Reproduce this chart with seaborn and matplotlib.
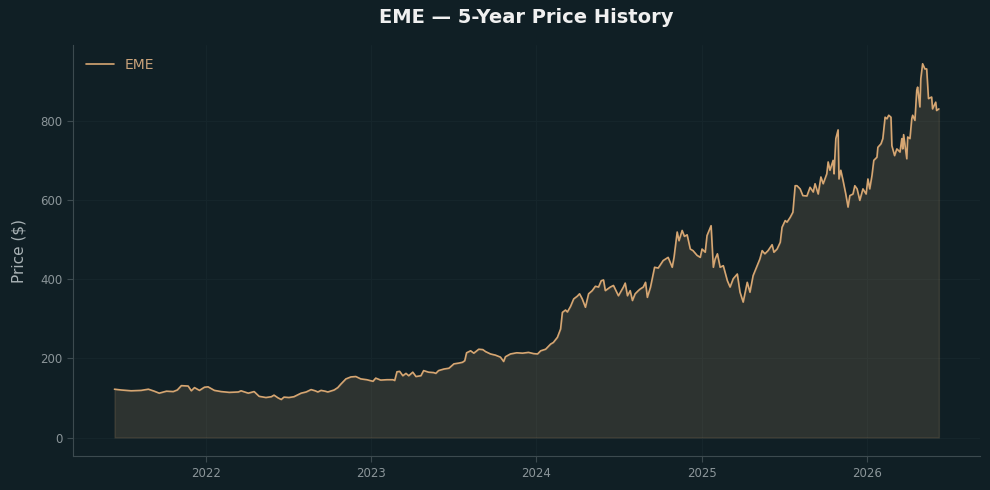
import matplotlib
matplotlib.use("Agg")
import matplotlib.pyplot as plt
import matplotlib.dates as mdates
import pandas as pd
import seaborn as sns

TICKER = "EME"

DATES = [
    "2021-06-12", "2021-06-27", "2021-07-19", "2021-08-10", "2021-08-26", "2021-09-08",
    "2021-09-19", "2021-10-05", "2021-10-20", "2021-10-29", "2021-11-07", "2021-11-22",
    "2021-11-29", "2021-12-06", "2021-12-17", "2021-12-28", "2022-01-05", "2022-01-19",
    "2022-02-03", "2022-02-21", "2022-03-13", "2022-03-19", "2022-04-04", "2022-04-17",
    "2022-04-28", "2022-05-13", "2022-05-25", "2022-05-31", "2022-06-09", "2022-06-16",
    "2022-06-22", "2022-07-03", "2022-07-14", "2022-07-30", "2022-08-10", "2022-08-21",
    "2022-08-30", "2022-09-05", "2022-09-12", "2022-09-21", "2022-09-27", "2022-10-11",
    "2022-10-19", "2022-10-26",
    "2022-11-06", "2022-11-17", "2022-11-28", "2022-12-09", "2022-12-22", "2023-01-05",
    "2023-01-11", "2023-01-22", "2023-02-05", "2023-02-18", "2023-02-22", "2023-02-27",
    "2023-03-05", "2023-03-12", "2023-03-19", "2023-03-25", "2023-04-03", "2023-04-10",
    "2023-04-21", "2023-04-27", "2023-05-08", "2023-05-19", "2023-05-24", "2023-05-30",
    "2023-06-11", "2023-06-22", "2023-07-03", "2023-07-14", "2023-07-22", "2023-07-27",
    "2023-07-31", "2023-08-09", "2023-08-16", "2023-08-27", "2023-09-05", "2023-09-11",
    "2023-09-22", "2023-10-03", "2023-10-14", "2023-10-21", "2023-10-25", "2023-11-05",
    "2023-11-19", "2023-12-02", "2023-12-15", "2023-12-26", "2024-01-04",
    "2024-01-11", "2024-01-22", "2024-02-02", "2024-02-08", "2024-02-17", "2024-02-24",
    "2024-02-28", "2024-03-06", "2024-03-10", "2024-03-17", "2024-03-24", "2024-04-01",
    "2024-04-06", "2024-04-12", "2024-04-19", "2024-04-26", "2024-05-04", "2024-05-11",
    "2024-05-18", "2024-05-24", "2024-05-29", "2024-06-02", "2024-06-07", "2024-06-13",
    "2024-06-20", "2024-07-01", "2024-07-07", "2024-07-12", "2024-07-16", "2024-07-21",
    "2024-07-27", "2024-08-01", "2024-08-07", "2024-08-14",
    "2024-08-18", "2024-08-25", "2024-08-30", "2024-09-03", "2024-09-10", "2024-09-19",
    "2024-09-27", "2024-10-08", "2024-10-19", "2024-10-28", "2024-11-01", "2024-11-08",
    "2024-11-12", "2024-11-19", "2024-11-24", "2024-11-30", "2024-12-07", "2024-12-13",
    "2024-12-22", "2024-12-29", "2025-01-02", "2025-01-09", "2025-01-13", "2025-01-22",
    "2025-01-27", "2025-01-31", "2025-02-05", "2025-02-11", "2025-02-18", "2025-02-27",
    "2025-03-05", "2025-03-12", "2025-03-21", "2025-03-27", "2025-04-03", "2025-04-12",
    "2025-04-18",
    "2025-04-25", "2025-05-04", "2025-05-10", "2025-05-15", "2025-05-21", "2025-05-28",
    "2025-06-06", "2025-06-10", "2025-06-17", "2025-06-24", "2025-06-28", "2025-07-05",
    "2025-07-09", "2025-07-16", "2025-07-22", "2025-07-27", "2025-07-31", "2025-08-07",
    "2025-08-13", "2025-08-22", "2025-08-29", "2025-09-05", "2025-09-09", "2025-09-16",
    "2025-09-22", "2025-09-27", "2025-10-05", "2025-10-08", "2025-10-12", "2025-10-19",
    "2025-10-21", "2025-10-25", "2025-10-30", "2025-11-01", "2025-11-05", "2025-11-10",
    "2025-11-16", "2025-11-21", "2025-11-25",
    "2025-12-02", "2025-12-06", "2025-12-11", "2025-12-17", "2025-12-24", "2025-12-31",
    "2026-01-04", "2026-01-08", "2026-01-13", "2026-01-17", "2026-01-24", "2026-01-26",
    "2026-02-02", "2026-02-06", "2026-02-11", "2026-02-15", "2026-02-19", "2026-02-24",
    "2026-02-26", "2026-03-04", "2026-03-09", "2026-03-16", "2026-03-20", "2026-03-22",
    "2026-03-24", "2026-03-31", "2026-04-02", "2026-04-07", "2026-04-11", "2026-04-13",
    "2026-04-18", "2026-04-22", "2026-04-24", "2026-04-29", "2026-05-01", "2026-05-05",
    "2026-05-10", "2026-05-14", "2026-05-18", "2026-05-25", "2026-05-27", "2026-06-03",
    "2026-06-05", "2026-06-10",
]

PRICES = [
    122, 120, 118, 119, 122, 117,
    112, 117, 116, 120, 131, 130,
    118, 126, 119, 127, 128, 119,
    116, 114, 115, 118, 112, 116,
    104, 101, 103, 107, 100, 96,
    102, 101, 103, 112, 115, 121,
    118, 115, 119, 117, 115, 120,
    126, 135,
    148, 153, 154, 148, 146, 142,
    150, 145, 146, 146, 144, 166,
    167, 156, 162, 156, 165, 154,
    156, 169, 165, 164, 162, 169,
    173, 175, 186, 188, 190, 194,
    214, 219, 213, 223, 222, 217,
    211, 208, 203, 192, 204, 211,
    214, 213, 215, 212, 211,
    219, 223, 236, 240, 253, 274,
    316, 322, 317, 331, 350, 357,
    363, 350, 329, 363, 371, 382,
    380, 396, 398, 371, 375, 380,
    384, 358, 370, 380, 390, 358,
    371, 346, 363, 371,
    375, 380, 392, 354, 380, 430,
    428, 447, 455, 430, 455, 519,
    497, 523, 508, 512, 476, 472,
    460, 455, 476, 468, 510, 535,
    430, 451, 464, 430, 434, 396,
    380, 401, 413, 367, 342, 392,
    367,
    409, 434, 451, 472, 464, 472,
    487, 468, 476, 493, 531, 548,
    544, 556, 569, 636, 636, 628,
    611, 610, 632, 620, 641, 615,
    658, 641, 666, 696, 675, 700,
    666, 755, 777, 653, 675, 649,
    615, 582, 611,
    615, 636, 628, 599, 628, 615,
    653, 628, 662, 700, 708, 733,
    742, 755, 809, 805, 814, 809,
    737, 712, 729, 721, 755, 729,
    765, 704, 759, 755, 805, 814,
    801, 877, 885, 835, 906, 944,
    931, 931, 856, 860, 830, 847,
    826, 830,
]

BG = "#101f25"
LINE = "#d6a672"
GRID = "#15252b"
SPINE = "#3c4a4f"
TICK = "#8b9599"

sns.set_theme(style="dark", rc={
    "figure.facecolor": BG,
    "axes.facecolor": BG,
    "axes.edgecolor": SPINE,
    "axes.grid": True,
    "grid.color": GRID,
    "grid.linewidth": 0.8,
    "xtick.color": TICK,
    "ytick.color": TICK,
    "xtick.bottom": True,
    "ytick.left": True,
    "axes.labelcolor": "#a9b2b5",
})
plt.rcParams["font.family"] = ["DejaVu Sans"]

df = pd.DataFrame({"Date": pd.to_datetime(DATES), "Price": PRICES})

fig, ax = plt.subplots(figsize=(9.9, 4.9), dpi=100)
fig.subplots_adjust(left=0.074, right=0.99, top=0.908, bottom=0.069)

ax.fill_between(df["Date"], df["Price"], 0, color=LINE, alpha=0.15, linewidth=1)
sns.lineplot(data=df, x="Date", y="Price", ax=ax, color=LINE, linewidth=1.2, label=TICKER)

ax.xaxis.set_major_locator(mdates.YearLocator())
ax.xaxis.set_major_formatter(mdates.DateFormatter("%Y"))
ax.tick_params(axis="both", labelsize=8.5, length=4, width=0.8, color=SPINE)
ax.set_xlabel("")
ax.set_ylabel("Price ($)", fontsize=11, labelpad=10)
ax.set_title(f"{TICKER} — 5-Year Price History", fontsize=14, fontweight="bold",
             color="#f0f0f0", pad=16)

for side in ["top", "right"]:
    ax.spines[side].set_visible(False)
for side in ["left", "bottom"]:
    ax.spines[side].set_color(SPINE)
    ax.spines[side].set_linewidth(0.8)

ax.legend(loc="upper left", frameon=False, fontsize=10, labelcolor="#c9a27a")

fig.savefig("out.png", dpi=100, facecolor=BG)
